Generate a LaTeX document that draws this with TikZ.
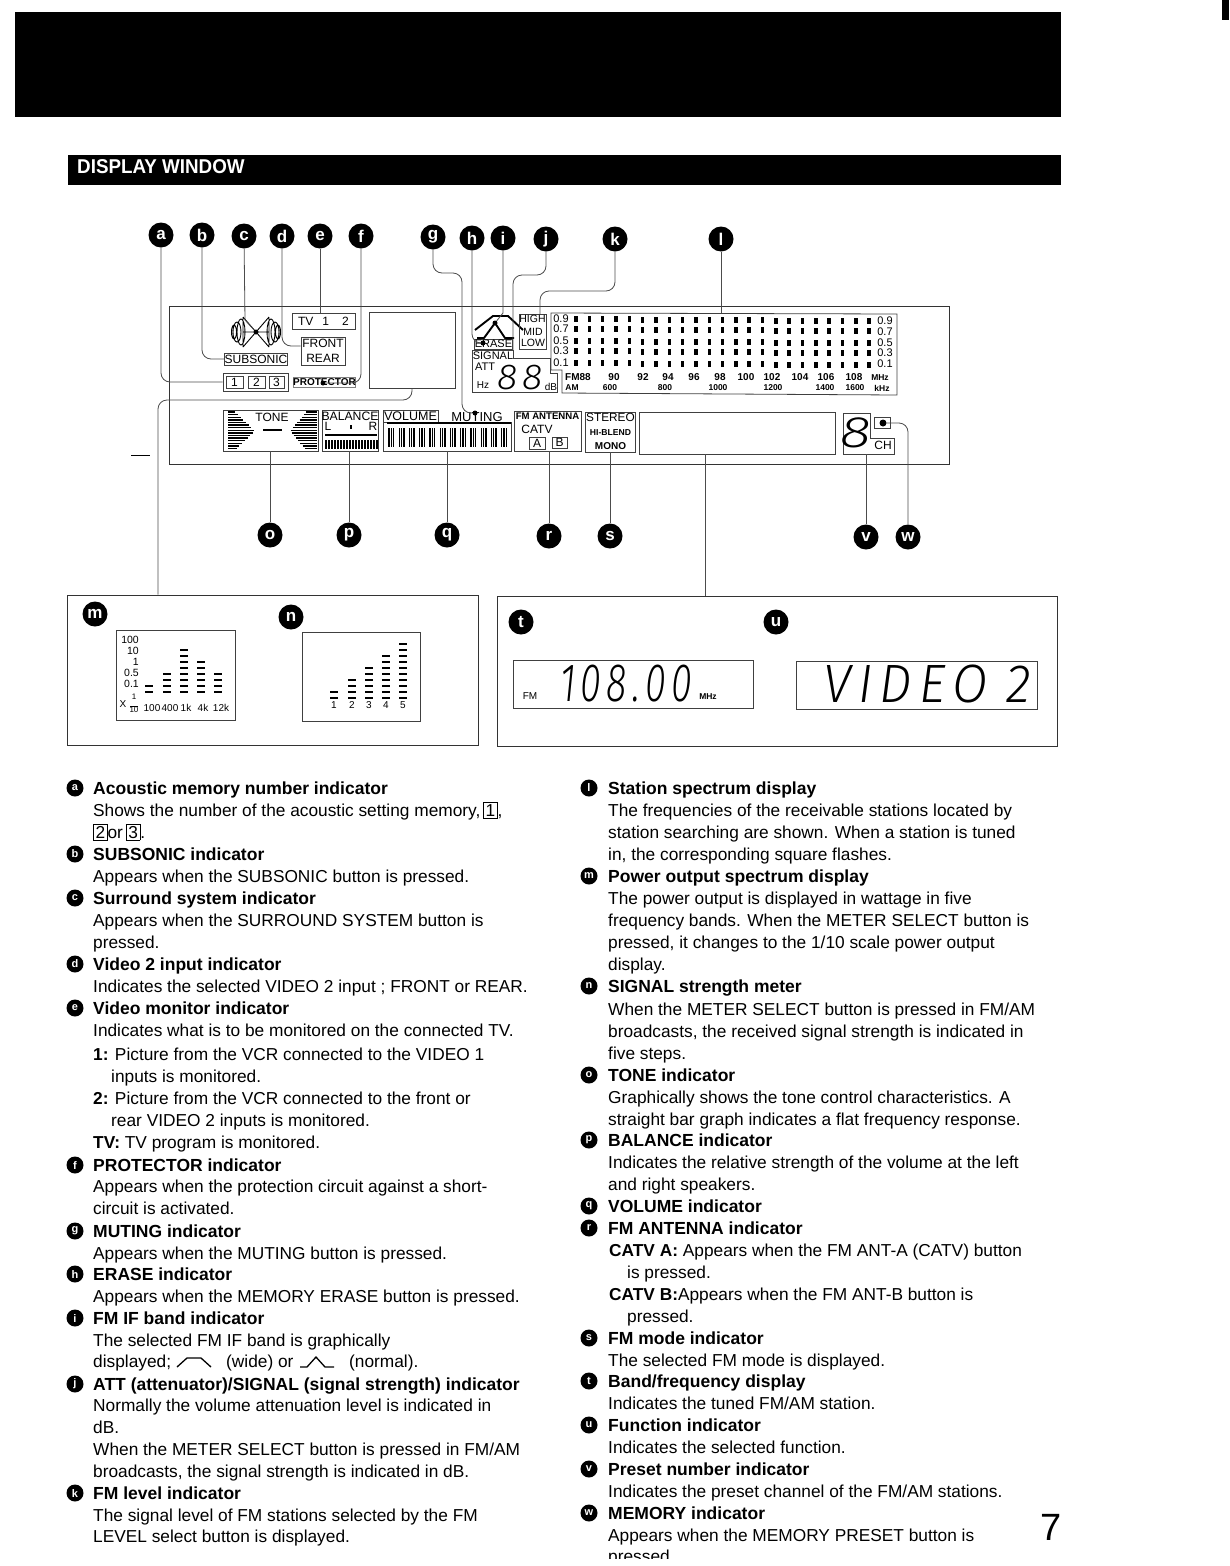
\documentclass[tikz,border=0pt]{standalone}
\usepackage{fontspec}
\setmainfont{Liberation Sans}
\newfontfamily\lcdfont{Fira Sans}[UprightFont=* Light, ItalicFont=* Light Italic, LetterSpace=14]
\usetikzlibrary{positioning}
\usetikzlibrary{calc}
\tikzset{
  callout/.style={circle, fill=black, text=white, inner sep=0pt, minimum size=25pt, font=\fontsize{17}{17}\selectfont\bfseries},
  smallcall/.style={circle, fill=black, text=white, inner sep=0pt, minimum size=17pt, font=\fontsize{11}{11}\selectfont\bfseries},
  leader/.style={line width=0.8pt, black!70, rounded corners=9pt},
  endpt/.style={circle, fill=black, inner sep=0pt, minimum size=5pt},
  lcdbox/.style={draw=black!75, line width=0.8pt, inner sep=0pt, font=\fontsize{12}{15}\selectfont, align=center},
  lcdtxt/.style={inner sep=0pt, font=\fontsize{12}{15}\selectfont},
  tiny/.style={inner sep=0pt, font=\fontsize{10}{11}\selectfont},
  seg/.style={inner sep=0pt, font=\lcdfont\itshape},
  frame/.style={draw=black!80, line width=0.9pt, inner sep=0pt},
  bodytxt/.style={anchor=base west, inner sep=0pt, font=\fontsize{17.3}{20}\selectfont},
  headtxt/.style={anchor=base west, inner sep=0pt, font=\fontsize{17.5}{20}\selectfont\bfseries},
}
\newcommand{\keybox}[1]{{\setlength{\fboxsep}{1.8pt}\setlength{\fboxrule}{0.6pt}\fbox{#1}}}
\begin{document}
\begin{tikzpicture}[x=1pt,y=-1pt]
  \useasboundingbox (0,0) rectangle (1229,1566);
  % header bars
  \fill[black] (15,12) rectangle (1061,117);
  \fill[black] (68,155) rectangle (1061,185);
  \node[anchor=west, inner sep=0pt, text=white, font=\fontsize{20}{20}\selectfont\bfseries] (title) at (77,167) {\scalebox{.94}[1]{DISPLAY WINDOW}};
  \fill[black] (1222,0) rectangle (1229,20);
  \fill[black] (131,454.5) rectangle (150,456);
  % display panel
  \node[frame, minimum width=780pt, minimum height=158pt] (panel) at (559,385) {};
  % upper left part
  \node[lcdbox, minimum width=65pt, minimum height=18pt] (memo) at (255.5,382) {};
  \node[lcdbox, minimum width=17pt, minimum height=12pt] (mem1) at (234.5,382) {1};
  \node[lcdbox, minimum width=17pt, minimum height=12pt] (mem2) at (256.5,382) {2};
  \node[lcdbox, minimum width=15pt, minimum height=12pt] (mem3) at (276.5,382) {3};
  \node[lcdbox, minimum width=60pt, minimum height=12pt] (subsonic) at (256,359) {SUBSONIC};
  \node[lcdbox, minimum width=63pt, minimum height=16pt] (tvbox) at (323.5,321) {TV\hspace{9pt}1\hspace{13pt}2};
  \node[lcdbox, minimum width=44pt, minimum height=28pt] (front) at (323,351) {FRONT\\REAR};
  \node[lcdbox, draw=black!50, minimum width=59pt, minimum height=10pt, font=\fontsize{10}{12}\selectfont\bfseries] (prot) at (324.5,382) {PROTECTOR};
  \node[lcdbox, minimum width=86pt, minimum height=76pt] (screen) at (412,350) {};
  % surround symbol
  \draw[line width=0.9pt] (243,317) -- (269,347) (243,347) -- (269,317)
    (243,317) -- (243,347) (269,317) -- (269,347)
    (241,332) ellipse (4 and 13) (237,332) ellipse (4 and 10) (234,332) ellipse (2.5 and 7)
    (271,332) ellipse (4 and 13) (275,332) ellipse (4 and 10) (278,332) ellipse (2.5 and 7)
    (243,332) -- (269,332);
  \node[endpt] (surrdot) at (256,332) {};
  \node[endpt] (protdot) at (323,383) {};
  % filter curves and erase
  \draw[line width=1.9pt, line join=round] (475,330) -- (493,316) -- (508,316) -- (523,330);
  \draw[line width=1.9pt, line join=round] (477,338) -- (484,338) -- (495,323) -- (505,338) -- (514,338);
  \node[endpt] (ifdot) at (495,323) {};
  \node[lcdbox, minimum width=38pt, minimum height=10pt, font=\fontsize{11}{12}\selectfont] (erase) at (493.5,344) {ERASE};
  \node[endpt] (erasedot) at (483,343) {};
  \draw[lcdbox] (472,350) -- (513,350) -- (513,358) -- (550,358) -- (550,373) -- (557,373) -- (557,392) -- (472,392) -- cycle;
  \node[lcdtxt, font=\fontsize{11}{12}\selectfont] (signal) at (493,356) {SIGNAL};
  \node[lcdtxt, font=\fontsize{11}{12}\selectfont] (att) at (485,367) {ATT};
  \node[tiny] (hz) at (483,385) {Hz};
  \node[tiny] (db) at (551,387) {dB};
  \node[seg] (attdig) at (520,378) {\fontsize{36}{36}\selectfont\scalebox{1.05}[1]{88}};
  \node[lcdbox, minimum width=27pt, minimum height=35pt] (level) at (532.5,331.5) {};
  \node[lcdtxt, font=\fontsize{10.5}{12}\selectfont] (high) at (532.5,319) {HIGH};
  \node[lcdtxt, font=\fontsize{10.5}{13}\selectfont] (mid) at (533,332) {MID};
  \node[lcdtxt, font=\fontsize{10.5}{13}\selectfont] (low) at (533,343) {LOW};
  % station spectrum
  \draw[lcdbox] (551,313) -- (897,314) -- (897,395) -- (562,393) -- (562,370) -- (551,370) -- cycle;
  \foreach \yy/\val/\yr in {319/0.9/321,329/0.7/332,341/0.5/343,351/0.3/353,363/0.1/364}{
    \node[tiny, font=\fontsize{11}{12}\selectfont] (sl\yy) at (561,\yy) {\val};
    \node[tiny, font=\fontsize{11}{12}\selectfont] (sr\yy) at (885,\yr) {\val};
    \foreach \col in {0,...,22}
      \fill[black] ($(576,\yy)+(13.33*\col,0.1*\col)+(-1.8,-3)$) rectangle ++(3.6,6);
  }
  \foreach \xx/\val in {578/FM88,614/90,643/92,668/94,694/96,720/98,746/100,772/102,800/104,826/106,854/108}
    \node[tiny, font=\fontsize{10}{11}\selectfont\bfseries] (fm\xx) at (\xx,377) {\val};
  \node[tiny, font=\fontsize{8.5}{11}\selectfont\bfseries] (mhz) at (880,378) {MHz};
  \foreach \xx/\val in {572/AM,610/600,665/800,718/1000,773/1200,825/1400,855/1600}
    \node[tiny, font=\fontsize{8.5}{11}\selectfont\bfseries] (am\xx) at (\xx,387.5) {\val};
  \node[tiny, font=\fontsize{8.5}{11}\selectfont\bfseries] (khz) at (882,388) {kHz};
  % lower row
  \node[lcdbox, minimum width=95pt, minimum height=41pt] (tone) at (270.5,430.5) {};
  \node[lcdtxt] (tonetxt) at (272,417) {TONE};
  \foreach \yy [evaluate=\yy as \xa using 255-abs(\yy-431)*1.05, evaluate=\yy as \xb using 290+abs(\yy-431)*0.85] in {412,414.6,...,450}{
    \draw[line width=1.4pt] (228,\yy) -- (\xa,\yy);
    \draw[line width=1.4pt] (\xb,\yy) -- (317,\yy);
  }
  \draw[line width=2pt] (263,430) -- (282,430);
  \node[lcdbox, minimum width=56pt, minimum height=41pt] (balance) at (350,430.5) {};
  \node[lcdtxt, font=\fontsize{12.2}{15}\selectfont] (baltxt) at (350,416) {BALANCE};
  \node[lcdtxt] (ball) at (328,426) {L};
  \node[lcdtxt] (balr) at (373,426) {R};
  \fill[black] (350,425) rectangle (352,429);
  \draw[line width=1.4pt] (325,435) -- (377,435);
  \foreach \xx in {326,329,...,377}
    \draw[line width=1.3pt] (\xx,440) -- (\xx,449);
  \node[lcdbox, minimum width=128pt, minimum height=29pt] (volume) at (447,436.5) {};
  \node[lcdbox, minimum width=55pt, minimum height=12pt, font=\fontsize{12.5}{15}\selectfont] (voltxt) at (410.5,416) {VOLUME};
  \node[lcdtxt, font=\fontsize{13}{15}\selectfont] (muting) at (477,417) {MUTING};
  \node[endpt] (mutdot) at (475,413) {};
  \draw[line width=1.6pt] (387,423) -- (511,423);
  \foreach \g in {0,...,11}
    \foreach \b in {0,1,2}
      \draw[line width=1.3pt] ($(389,428)+(10.25*\g+2.3*\b,0)$) -- ++(0,19);
  \node[lcdbox, minimum width=67pt, minimum height=40pt] (fmant) at (547.5,431) {};
  \node[lcdtxt, font=\fontsize{9.6}{12}\selectfont\bfseries] (fmtxt) at (547.5,416) {FM ANTENNA};
  \node[lcdtxt] (catv) at (537,429) {CATV};
  \node[lcdbox, minimum width=16pt, minimum height=12pt] (ant1) at (537,443) {A};
  \node[lcdbox, minimum width=15pt, minimum height=11pt] (ant2) at (559.5,442.5) {B};
  \node[lcdbox, minimum width=50pt, minimum height=40pt] (mode) at (610,432) {};
  \node[lcdtxt, font=\fontsize{11.8}{15}\selectfont] (stereo) at (610.5,417) {STEREO};
  \node[lcdtxt, font=\fontsize{8.6}{10}\selectfont\bfseries] (blend) at (610.5,433) {HI-BLEND};
  \node[lcdtxt, font=\fontsize{10}{12}\selectfont\bfseries] (mono) at (610.5,446) {MONO};
  \node[lcdbox, minimum width=196pt, minimum height=42pt] (bigwin) at (737,433) {};
  \draw[lcdbox] (843,413) -- (870,413) -- (870,438) -- (894,438) -- (894,454) -- (843,454) -- cycle;
  \node[seg] (presetdig) at (856,433) {\fontsize{44}{44}\selectfont\scalebox{1.3}[1]{8}};
  \node[lcdtxt] (ch) at (883,445) {CH};
  \node[lcdbox, minimum width=16pt, minimum height=11pt] (membox) at (882,423) {};
  \node[endpt, minimum size=7pt] (memdot) at (883,423) {};
  % numbered marks
  \foreach \nm/\xx/\yy in {a/161/235,b/202/235,c/244/236,d/282/236,e/320/236,f/361/236,g/433/237,h/472/238,i/503/238,j/546/239,k/615/239,l/721/239,o/270/535,p/349/535,q/447/535,r/549/536,s/610/536,v/866/537,w/908/537,m/95/614,n/291/617,t/521/622,u/776/622}
    \node[callout] (call\nm) at (\xx,\yy) {\nm};
  % lower windows
  \node[frame, minimum width=411pt, minimum height=150pt] (leftwin) at (272.5,670) {};
  \node[frame, minimum width=560pt, minimum height=150pt] (rightwin) at (777,671) {};
  \node[lcdbox, minimum width=119pt, minimum height=90pt] (powbox) at (175.5,675) {};
  \node[lcdbox, minimum width=118pt, minimum height=89pt] (sigbox) at (361,676.5) {};
  \foreach \yy/\val in {640/100,651/10,662/1,673/0.5,684/0.1}
    \node[tiny, anchor=east, font=\fontsize{10.5}{11}\selectfont] (pw\yy) at (139,\yy) {\val};
  \node[tiny] (xten) at (123,704) {X};
  \node[tiny, font=\fontsize{8}{8.5}\selectfont, align=center] (frac) at (134,703) {1\\[-1pt]\rule{8pt}{0.5pt}\\[-3pt]10};
  \foreach \xx/\val in {152/100,170/400,186/1k,203/4k,221/12k}
    \node[tiny] (pl\val) at (\xx,708) {\val};
  \foreach \xx/\n in {149/2,167/4,184/8,201/6,218/4}
    \foreach \k in {1,...,\n}
      \draw[line width=1.5pt] ($(\xx-4,698)+(0,-6*\k)$) -- ++(8,0);
  \foreach \xx/\n/\val in {334/2/1,352/4/2,369/6/3,386/8/4,403/10/5}{
    \node[tiny] (sg\val) at (\xx,705) {\val};
    \foreach \k in {1,...,\n}
      \draw[line width=1.5pt] ($(\xx-4,704)+(0,-6*\k)$) -- ++(8,0);
  }
  \node[lcdbox, minimum width=240pt, minimum height=48pt] (freqwin) at (633,684) {};
  \node[tiny, font=\fontsize{10}{11}\selectfont] (fmlab) at (530,696) {FM};
  \node[seg] (freqtxt) at (626,684) {\fontsize{54}{54}\selectfont\scalebox{.7}[1]{108.00}};
  \node[tiny, font=\fontsize{8.5}{11}\selectfont\bfseries] (mhzb) at (708,697) {MHz};
  \node[lcdbox, minimum width=241pt, minimum height=48pt] (funcwin) at (916.5,685) {};
  \node[seg] (functxt) at (927,684) {\fontsize{54}{54}\selectfont\scalebox{.95}[1]{VIDEO\hspace{20pt}2}};
  % connectors
  \coordinate (frontin) at (front.west|-0,346);
  \coordinate (cbend) at (245,320);
  \coordinate (gmid) at (462,273);
  \coordinate (ibend) at (503,313);
  \coordinate (jmid) at (513,275);
  \coordinate (attin) at (513,350);
  \coordinate (kmid) at (540,291);
  \coordinate (highin) at (540,314);
  \coordinate (specin) at (721,313);
  \coordinate (sbend) at (158,400);
  \coordinate (bigout) at (705,454);
  \coordinate (chin) at (866,454);
  \draw[leader] (calla) |- (memo.west);
  \draw[leader] (callb) |- (subsonic.west);
  \draw[leader, rounded corners=0pt] (callc) -- (cbend) -- (surrdot);
  \draw[leader] (calld) |- (frontin);
  \draw[leader] (calle) -- (calle|-tvbox.north);
  \draw[leader] (callf) |- (protdot);
  \draw[leader] (callg) |- (gmid) |- (mutdot);
  \draw[leader] (callh) |- (erasedot);
  \draw[leader, rounded corners=0pt] (calli) -- (ibend) -- (ifdot);
  \draw[leader] (callj) |- (jmid) -- (attin);
  \draw[leader] (callk) |- (kmid) -- (highin);
  \draw[leader] (calll) -- (specin);
  \draw[leader] (screen.south) |- (sbend) -- (sbend|-leftwin.north);
  \draw[leader] (bigout) -- (bigout|-rightwin.north);
  \draw[leader] (callo) -- (callo|-tone.south);
  \draw[leader] (callp) -- (callp|-balance.south);
  \draw[leader] (callq) -- (callq|-volume.south);
  \draw[leader] (callr) -- (callr|-fmant.south);
  \draw[leader] (calls) -- (calls|-mode.south);
  \draw[leader] (callv) -- (chin);
  \draw[leader] (callw) |- (memdot);
  % left column
  \foreach \y/\nm/\t in {788/a/{Acoustic memory number indicator},854/b/{SUBSONIC indicator},898/c/{Surround system indicator},964/d/{Video 2 input indicator},1008/e/{Video monitor indicator},1165/f/{PROTECTOR indicator},1231/g/{MUTING indicator},1274/h/{ERASE indicator},1318/i/{FM IF band indicator},1384/j/{ATT (attenuator)/SIGNAL (signal strength) indicator},1493/k/{FM level indicator}}{
    \node[smallcall] (mark\nm) at (75,\y) {\nm};
    \node[headtxt] (head\nm) at (93,\y+6) {\t};
  }
  \foreach \y/\xx/\t in {810/93/{Shows the number of the acoustic setting memory,\,\keybox{1},},832/93/{\keybox{2}or\,\keybox{3}.},876/93/{Appears when the SUBSONIC button is pressed.},920/93/{Appears when the SURROUND SYSTEM button is},942/93/{pressed.},986/93/{Indicates the selected VIDEO 2 input ; FRONT or REAR.},1030/93/{Indicates what is to be monitored on the connected TV.},1054/93/{\textbf{1:} Picture from the VCR connected to the VIDEO 1},1076/111/{inputs is monitored.},1098/93/{\textbf{2:} Picture from the VCR connected to the front or},1120/111/{rear VIDEO 2 inputs is monitored.},1142/93/{\textbf{TV:} TV program is monitored.},1186/93/{Appears when the protection circuit against a short-},1208/93/{circuit is activated.},1253/93/{Appears when the MUTING button is pressed.},1296/93/{Appears when the MEMORY ERASE button is pressed.},1340/93/{The selected FM IF band is graphically},1361/93/{displayed;},1361/226/{(wide) or},1361/349/{(normal).},1405/93/{Normally the volume attenuation level is indicated in},1427/93/{dB.},1449/93/{When the METER SELECT button is pressed in FM/AM},1471/93/{broadcasts, the signal strength is indicated in dB.},1515/93/{The signal level of FM stations selected by the FM},1536/93/{LEVEL select button is displayed.}}
    \node[bodytxt] (left\y x\xx) at (\xx,\y+6) {\t};
  \draw[line width=1.3pt] (177,1367) -- (187,1358) -- (201,1358) -- (211,1367);
  \draw[line width=1.3pt] (300,1367) -- (307,1367) -- (316,1357) -- (325,1367) -- (334,1367);
  % right column
  \foreach \y/\nm/\t in {788/l/{Station spectrum display},876/m/{Power output spectrum display},986/n/{SIGNAL strength meter},1075/o/{TONE indicator},1140/p/{BALANCE indicator},1206/q/{VOLUME indicator},1228/r/{FM ANTENNA indicator},1338/s/{FM mode indicator},1381/t/{Band/frequency display},1425/u/{Function indicator},1469/v/{Preset number indicator},1513/w/{MEMORY indicator}}{
    \node[smallcall] (mark\nm) at (589,\y) {\nm};
    \node[headtxt] (head\nm) at (608,\y+6) {\t};
  }
  \foreach \y/\xx/\t in {810/608/{The frequencies of the receivable stations located by},832/608/{station searching are shown. When a station is tuned},854/608/{in, the corresponding square flashes.},898/608/{The power output is displayed in wattage in five},920/608/{frequency bands. When the METER SELECT button is},942/608/{pressed, it changes to the 1/10 scale power output},964/608/{display.},1009/608/{When the METER SELECT button is pressed in FM/AM},1031/608/{broadcasts, the received signal strength is indicated in},1053/608/{five steps.},1097/608/{Graphically shows the tone control characteristics. A},1119/608/{straight bar graph indicates a flat frequency response.},1162/608/{Indicates the relative strength of the volume at the left},1184/608/{and right speakers.},1250/609/{\textbf{CATV A:} Appears when the FM ANT-A (CATV) button},1272/627/{is pressed.},1294/609/{\textbf{CATV B:}Appears when the FM ANT-B button is},1316/627/{pressed.},1360/608/{The selected FM mode is displayed.},1403/608/{Indicates the tuned FM/AM station.},1447/608/{Indicates the selected function.},1491/608/{Indicates the preset channel of the FM/AM stations.},1535/608/{Appears when the MEMORY PRESET button is},1556/608/{pressed}}
    \node[bodytxt] (right\y) at (\xx,\y+6) {\t};
  \fill[white] (600,1559) rectangle (800,1566);
  \node[inner sep=0pt, font=\fontsize{38}{38}\selectfont] (pageno) at (1051,1527) {7};
\end{tikzpicture}
\end{document}
